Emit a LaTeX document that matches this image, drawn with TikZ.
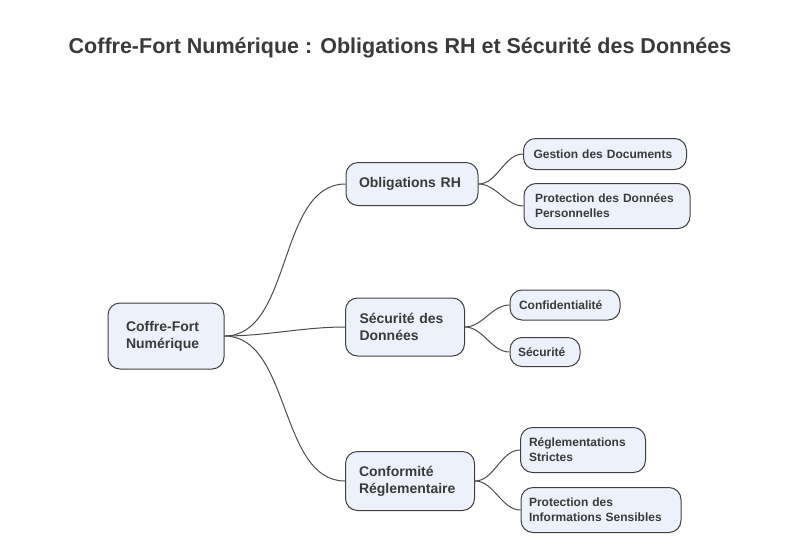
\documentclass[tikz,border=0pt]{standalone}
\usepackage{fontspec}
\setmainfont{Liberation Sans}
\definecolor{fillc}{HTML}{EDF1FC}
\definecolor{txt}{HTML}{3A3A3A}
\begin{document}
\begin{tikzpicture}[x=1pt,y=-1pt,
  box/.style={draw=black!75,line width=1pt,fill=fillc,rounded corners=12pt,
    font=\bfseries\fontsize{14}{17}\selectfont,text=txt,align=left,inner sep=0pt,
    minimum height=#1},
  link/.style={draw=black!70,line width=1pt,out=0,in=180,looseness=0.9}]
\useasboundingbox (0,0) rectangle (800,550);
\node[font=\bfseries\fontsize{21.5}{26}\selectfont,text=txt] (t) at (400,48) {Coffre-Fort Numérique : Obligations RH et Sécurité des Données};
\node[box=66pt,minimum width=116pt,text width=80pt] (r) at (166,336) {Coffre-Fort\\Numérique};
\node[box=43pt,minimum width=132pt,text width=106pt] (a) at (412,184) {Obligations RH};
\node[box=58pt,minimum width=119pt,text width=91pt] (b) at (405,327) {Sécurité des\\Données};
\node[box=59pt,minimum width=129pt,text width=102pt] (c) at (410,481) {Conformité\\Réglementaire};
\tikzset{box/.append style={font=\bfseries\fontsize{12}{15}\selectfont}}
\node[box=31pt,minimum width=163pt,text width=143pt] (a1) at (605,154) {Gestion des Documents};
\node[box=45pt,minimum width=166pt,text width=144pt] (a2) at (607,206) {Protection des Données\\Personnelles};
\node[box=30pt,minimum width=110pt,text width=92pt] (b1) at (565,305) {Confidentialité};
\node[box=29pt,minimum width=70pt,text width=54pt] (b2) at (545,352) {Sécurité};
\node[box=45pt,minimum width=125pt,text width=108pt] (c1) at (583,450) {Réglementations\\Strictes};
\node[box=45pt,minimum width=160pt,text width=144pt] (c2) at (601,510) {Protection des\\Informations Sensibles};
\foreach \p/\q in {r/a,r/b,r/c,a/a1,a/a2,b/b1,b/b2,c/c1,c/c2}
  \draw[link] (\p.east) to (\q.west);
\end{tikzpicture}
\end{document}
